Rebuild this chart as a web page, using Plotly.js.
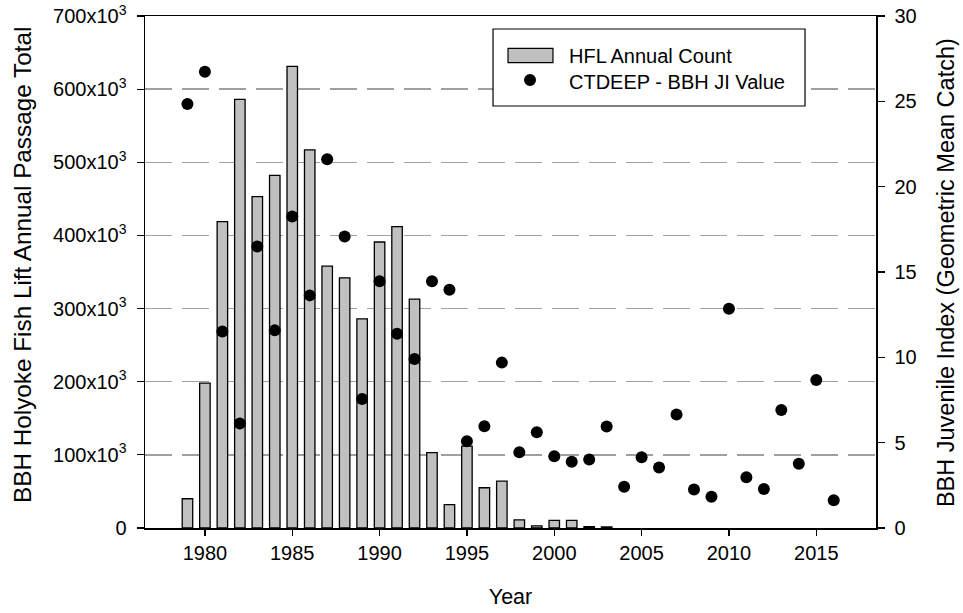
<!DOCTYPE html>
<html>
<head>
<meta charset="utf-8">
<script src="https://cdn.plot.ly/plotly-3.0.1.min.js"></script>
<style>
  html, body { margin: 0; padding: 0; background: #fff; }
  #chart { width: 963px; height: 613px; }
</style>
</head>
<body>
<div id="chart"></div>
<script>
// Holyoke fish lift annual passage counts (bars, left axis)
const passageYears = [1979, 1980, 1981, 1982, 1983, 1984, 1985, 1986, 1987, 1988,
                      1989, 1990, 1991, 1992, 1993, 1994, 1995, 1996, 1997, 1998,
                      1999, 2000, 2001, 2002, 2003];
const passageCounts = [40000, 198000, 419000, 586000, 453000, 482000, 631000, 517000, 358000, 342000,
                       286000, 391000, 412000, 313000, 103000, 32000, 112000, 55000, 64000, 11000,
                       3000, 10500, 10500, 2000, 1500];

// CTDEEP juvenile index (geometric mean catch, right axis)
const jiYears = [1979, 1980, 1981, 1982, 1983, 1984, 1985, 1986, 1987, 1988,
                 1989, 1990, 1991, 1992, 1993, 1994, 1995, 1996, 1997, 1998,
                 1999, 2000, 2001, 2002, 2003, 2004, 2005, 2006, 2007, 2008,
                 2009, 2010, 2011, 2012, 2013, 2014, 2015, 2016];
const jiValues = [24.84, 26.74, 11.52, 6.12, 16.49, 11.58, 18.25, 13.63, 21.6, 17.08,
                  7.56, 14.46, 11.38, 9.9, 14.46, 13.96, 5.09, 5.96, 9.69, 4.44,
                  5.61, 4.21, 3.88, 4.02, 5.95, 2.42, 4.15, 3.55, 6.65, 2.26,
                  1.83, 12.85, 2.98, 2.28, 6.92, 3.76, 8.67, 1.62];

// Left axis ticks, written as multiples of 10^3
const leftTickVals = [0, 100000, 200000, 300000, 400000, 500000, 600000, 700000];
const leftTickText = ['0', '100x10<sup>3</sup>', '200x10<sup>3</sup>', '300x10<sup>3</sup>',
                      '400x10<sup>3</sup>', '500x10<sup>3</sup>', '600x10<sup>3</sup>', '700x10<sup>3</sup>'];
const yearTicks = [1980, 1985, 1990, 1995, 2000, 2005, 2010, 2015];
const rightTicks = [0, 5, 10, 15, 20, 25, 30];

// Legend entries and axis titles
const legendLabels = ['HFL Annual Count', 'CTDEEP - BBH JI Value'];
const leftTitle = 'BBH Holyoke Fish Lift Annual Passage Total';
const rightTitle = 'BBH Juvenile Index (Geometric Mean Catch)';

const FONT = 'Liberation Sans, Arial, sans-serif';
const BAR_FILL = '#c0c0c0';

const traces = [
  {
    type: 'bar',
    name: legendLabels[0],
    x: passageYears,
    y: passageCounts,
    width: 0.6,
    marker: { color: BAR_FILL, line: { color: '#000', width: 1.3 } },
    yaxis: 'y'
  },
  {
    type: 'scatter',
    mode: 'markers',
    name: legendLabels[1],
    x: jiYears,
    y: jiValues,
    marker: { color: '#000', size: 12 },
    yaxis: 'y2'
  }
];

// Boxed legend drawn in paper coordinates, top-centre of the plot area
const legendShapes = [
  { type: 'rect', xref: 'paper', yref: 'paper', x0: 0.4761, x1: 0.9029, y0: 0.8242, y1: 0.9746,
    line: { color: '#000', width: 1.2 }, fillcolor: '#fff', layer: 'above' },
  { type: 'rect', xref: 'paper', yref: 'paper', x0: 0.4966, x1: 0.5581, y0: 0.9088, y1: 0.9369,
    line: { color: '#000', width: 1.2 }, fillcolor: BAR_FILL, layer: 'above' },
  { type: 'circle', xref: 'paper', yref: 'paper', x0: 0.5185, x1: 0.5349, y0: 0.8633, y1: 0.8867,
    line: { color: '#000', width: 0 }, fillcolor: '#000', layer: 'above' }
];
const textAnnotations = [
  { xref: 'paper', yref: 'paper', x: 0.5773, y: 0.9225, xanchor: 'left', yanchor: 'middle',
    text: legendLabels[0], showarrow: false, font: { family: FONT, size: 20, color: '#000' } },
  { xref: 'paper', yref: 'paper', x: 0.5773, y: 0.8717, xanchor: 'left', yanchor: 'middle',
    text: legendLabels[1], showarrow: false, font: { family: FONT, size: 20, color: '#000' } },
  // vertical axis titles
  { xref: 'paper', yref: 'paper', x: -0.1669, y: 0.5137, xanchor: 'center', yanchor: 'middle',
    textangle: -90, text: leftTitle, showarrow: false, font: { family: FONT, size: 24.3, color: '#000' } },
  { xref: 'paper', yref: 'paper', x: 1.0958, y: 0.498, xanchor: 'center', yanchor: 'middle',
    textangle: -90, text: rightTitle, showarrow: false, font: { family: FONT, size: 23.5, color: '#000' } }
];

const layout = {
  width: 963,
  height: 613,
  margin: { l: 145, r: 87, t: 16, b: 85 },
  paper_bgcolor: '#fff',
  plot_bgcolor: '#fff',
  font: { family: FONT, size: 20, color: '#000' },
  showlegend: false,
  shapes: legendShapes,
  annotations: textAnnotations,
  xaxis: {
    range: [1976.57, 2018.42],
    tickvals: yearTicks,
    ticks: 'outside', ticklen: 6, tickwidth: 1.2, tickcolor: '#000',
    showline: true, linecolor: '#000', linewidth: 1.5, mirror: true,
    showgrid: false, zeroline: false,
    tickfont: { family: FONT, size: 20 },
    title: { text: 'Year', font: { family: FONT, size: 21.5 }, standoff: 26 }
  },
  yaxis: {
    range: [0, 700000],
    tickvals: leftTickVals,
    ticktext: leftTickText,
    ticks: 'outside', ticklen: 7, tickwidth: 1.2, tickcolor: '#000',
    ticklabelstandoff: 6,
    showline: true, linecolor: '#000', linewidth: 1.5,
    showgrid: true, gridcolor: '#a0a0a0', gridwidth: 1.3, griddash: '27px,10px',
    zeroline: false,
    tickfont: { family: FONT, size: 20 }
  },
  yaxis2: {
    overlaying: 'y',
    side: 'right',
    range: [0, 30],
    tickvals: rightTicks,
    ticks: 'outside', ticklen: 7, tickwidth: 1.2, tickcolor: '#000',
    ticklabelstandoff: 6,
    showline: true, linecolor: '#000', linewidth: 1.5,
    showgrid: false, zeroline: false,
    tickfont: { family: FONT, size: 20 }
  }
};

Plotly.newPlot('chart', traces, layout, { displayModeBar: false, staticPlot: true });
</script>
</body>
</html>
